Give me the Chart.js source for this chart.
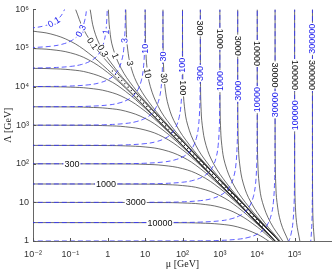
<!DOCTYPE html>
<html><head><meta charset="utf-8">
<script src="https://cdn.jsdelivr.net/npm/chart.js@4/dist/chart.umd.min.js"></script>
<style>html,body{margin:0;padding:0;background:#fff;overflow:hidden}#wrap{width:332px;height:271px}</style>
</head><body><div id="wrap"><canvas id="c" width="332" height="271"></canvas></div>
<script>
// ---- axis ticks ----
const xTickValues = [1e-2, 1e-1, 1, 10, 100, 1e3, 1e4, 1e5];
const xTickLabels = ['10\u207B\u00B2', '10\u207B\u00B9', '1', '10', '10\u00B2', '10\u00B3', '10\u2074', '10\u2075'];
const yTickValues = [1, 10, 100, 1e3, 1e4, 1e5, 1e6];
const yTickLabels = ['1', '10', '10\u00B2', '10\u00B3', '10\u2074', '10\u2075', '10\u2076'];

// ---- black contours, branch coming from the left (horizontal at small mu) : [mu, Lambda] ----
const blackL_0_1 = [[0.01,2.73e5],[0.03,2.31e5],[0.1,1.5e5],[0.3,7.5e4],[1,2.73e4],[3,9.68e3],[10,2970],[30,997],[100,300],[300,100],[1000,30],[3000,10],[1e4,3],[2e4,1.5],[3e4,1]];
const blackL_0_3 = [[0.01,9.68e4],[0.03,9.09e4],[0.1,7.5e4],[0.3,5e4],[1,2.31e4],[3,9.09e3],[10,2910],[30,990],[100,299],[300,99.9],[1000,30],[3000,10],[1e4,3],[2e4,1.5],[3e4,1]];
const blackL_1 = [[0.01,2.97e4],[0.03,2.91e4],[0.1,2.73e4],[0.3,2.31e4],[1,1.5e4],[3,7.5e3],[10,2730],[30,968],[100,297],[300,99.7],[1000,30],[3000,10],[1e4,3],[2e4,1.5],[3e4,1]];
const blackL_3 = [[0.01,9.97e3],[0.03,9.9e3],[0.1,9.68e3],[0.3,9.09e3],[1,7.5e3],[3,5e3],[10,2310],[30,909],[100,291],[300,99],[1000,29.9],[3000,10],[1e4,3],[2e4,1.5],[3e4,1]];
const blackL_10 = [[0.01,3e3],[0.1,2.97e3],[0.3,2.91e3],[1,2.73e3],[3,2.31e3],[10,1.5e3],[30,750],[100,273],[300,96.8],[1000,29.7],[3000,9.97],[1e4,3],[2e4,1.5],[3e4,1]];
const blackL_30 = [[0.01,1e3],[0.3,990],[1,968],[3,909],[10,750],[30,500],[100,231],[300,90.9],[1000,29.1],[3000,9.9],[1e4,2.99],[2e4,1.5],[3e4,1]];
const blackL_100 = [[0.01,300],[1,297],[3,291],[10,273],[30,231],[100,150],[300,75],[1000,27.3],[3000,9.68],[1e4,2.97],[2e4,1.49],[3e4,1]];
const blackL_300 = [[0.01,100],[3,99],[10,96.8],[30,90.9],[100,75],[300,50],[1000,23.1],[3000,9.09],[1e4,2.91],[2e4,1.48],[3e4,0.99]];
const blackL_1000 = [[0.01,30],[10,29.7],[30,29.1],[100,27.3],[300,23.1],[1000,15],[3000,7.5],[1e4,2.73],[2e4,1.43],[3e4,0.97]];
const blackL_3000 = [[0.01,10],[30,9.9],[100,9.68],[300,9.09],[1000,7.5],[3000,5],[1e4,2.31],[2e4,1.3],[3e4,0.91]];
const blackL_1e4 = [[0.01,3],[100,2.97],[300,2.91],[1000,2.73],[3000,2.31],[1e4,1.5],[2e4,1],[3e4,0.75]];

// ---- black contours, branch coming from the top (vertical at large Lambda) ----
const blackT_0_1 = [[0.138,1e6],[0.227,3e5],[0.48,1e5],[1.37,3e4],[3.9,1e4],[12.8,3e3],[38.1,1e3],[127,300],[380,100],[1267,30],[3800,10],[1.27e4,3],[3.8e4,1]];
const blackT_0_3 = [[0.338,1e6],[0.427,3e5],[0.68,1e5],[1.57,3e4],[4.1,1e4],[13,3e3],[38.3,1e3],[127.3,300],[380.3,100],[1267,30],[3800,10],[1.27e4,3],[3.8e4,1]];
const blackT_1 = [[1.038,1e6],[1.127,3e5],[1.38,1e5],[2.27,3e4],[4.8,1e4],[13.7,3e3],[39,1e3],[128,300],[381,100],[1268,30],[3801,10],[1.27e4,3],[3.8e4,1]];
const blackT_3 = [[3.038,1e6],[3.127,3e5],[3.38,1e5],[4.27,3e4],[6.8,1e4],[15.7,3e3],[41,1e3],[130,300],[383,100],[1270,30],[3803,10],[1.27e4,3],[3.8e4,1]];
const blackT_10 = [[10.04,1e6],[10.13,3e5],[10.38,1e5],[11.27,3e4],[13.8,1e4],[22.7,3e3],[48,1e3],[137,300],[390,100],[1277,30],[3810,10],[1.271e4,3],[3.801e4,1]];
const blackT_30 = [[30.04,1e6],[30.13,3e5],[30.38,1e5],[31.27,3e4],[33.8,1e4],[42.7,3e3],[68,1e3],[157,300],[410,100],[1297,30],[3830,10],[1.273e4,3],[3.803e4,1]];
const blackT_100 = [[100.04,1e6],[100.13,3e5],[100.38,1e5],[101.3,3e4],[103.8,1e4],[112.7,3e3],[138,1e3],[227,300],[480,100],[1367,30],[3900,10],[1.28e4,3],[3.81e4,1]];
const blackT_300 = [[300,1e6],[300.13,3e5],[300.38,1e5],[301.3,3e4],[303.8,1e4],[312.7,3e3],[338,1e3],[427,300],[680,100],[1567,30],[4100,10],[1.3e4,3],[3.83e4,1]];
const blackT_1000 = [[1000,1e6],[1000,1e5],[1001.3,3e4],[1003.8,1e4],[1012.7,3e3],[1038,1e3],[1127,300],[1380,100],[2267,30],[4800,10],[1.37e4,3],[3.9e4,1]];
const blackT_3000 = [[3000,1e6],[3000,1e5],[3001.3,3e4],[3003.8,1e4],[3012.7,3e3],[3038,1e3],[3127,300],[3380,100],[4267,30],[6800,10],[1.57e4,3],[4.1e4,1]];
const blackT_1e4 = [[1e4,1e6],[1e4,1e4],[1.0013e4,3e3],[1.0038e4,1e3],[1.0127e4,300],[1.038e4,100],[1.127e4,30],[1.38e4,10],[2.27e4,3],[4.8e4,1]];
const blackT_3e4 = [[3e4,1e6],[3e4,1e4],[3.0013e4,3e3],[3.0038e4,1e3],[3.0127e4,300],[3.038e4,100],[3.127e4,30],[3.38e4,10],[4.27e4,3],[6.8e4,1]];
const blackT_1e5 = [[1e5,1e6],[1e5,1e3],[1.0013e5,300],[1.0038e5,100],[1.0127e5,30],[1.038e5,10],[1.127e5,3],[1.38e5,1]];
const blackT_3e5 = [[3e5,1e6],[3e5,1e3],[3.0013e5,300],[3.0038e5,100],[3.0127e5,30],[3.038e5,10],[3.127e5,3],[3.38e5,1]];

// dotted marks inside the narrow channel along the diagonal
const bundleDots = [[1.3,2.6e4],[3.4,1e4],[11.3,3e3],[34,1e3],[113,300],[340,100],[1133,30],[3400,10],[1.13e4,3],[1.6e4,2.1]];

// ---- blue dashed contours ----
const blue_0_1 = [[0.005,3.16e5],[0.01,3.33e5],[0.02,3.75e5],[0.035,4.6e5],[0.05,6e5],[0.065,8.6e5],[0.08,1.5e6],[0.09,3e6]];
const blue_0_3 = [[0.005,1.02e5],[0.01,1.03e5],[0.03,1.11e5],[0.06,1.25e5],[0.105,1.54e5],[0.15,2e5],[0.195,2.86e5],[0.24,5e5],[0.27,1e6],[0.291,3.3e6]];
const blue_1 = [[0.005,3e4],[0.01,3.03e4],[0.03,3.09e4],[0.1,3.33e4],[0.2,3.75e4],[0.35,4.62e4],[0.5,6e4],[0.65,8.57e4],[0.8,1.5e5],[0.9,3e5],[0.97,1e6],[0.99,3e6]];
const blue_3 = [[0.005,1e4],[0.03,1.01e4],[0.09,1.03e4],[0.3,1.11e4],[0.6,1.25e4],[1.05,1.54e4],[1.5,2e4],[1.95,2.86e4],[2.4,5e4],[2.7,1e5],[2.91,3.33e5],[2.97,1e6],[2.991,3.3e6]];
const blue_10 = [[0.005,3e3],[0.1,3.03e3],[0.3,3.09e3],[1,3.33e3],[2,3.75e3],[3.5,4.62e3],[5,6e3],[6.5,8.57e3],[8,1.5e4],[9,3e4],[9.7,1e5],[9.9,3e5],[9.97,1e6],[9.99,3e6]];
const blue_30 = [[0.005,1e3],[0.3,1.01e3],[0.9,1.03e3],[3,1.11e3],[6,1.25e3],[10.5,1.54e3],[15,2e3],[19.5,2.86e3],[24,5e3],[27,1e4],[29.1,3.33e4],[29.7,1e5],[29.91,3.33e5],[29.97,1e6],[29.99,3e6]];
const blue_100 = [[0.005,300],[1,303],[3,309],[10,333],[20,375],[35,462],[50,600],[65,857],[80,1500],[90,3000],[97,1e4],[99,3e4],[99.7,1e5],[99.97,1e6]];
const blue_300 = [[0.005,100],[3,101],[9,103],[30,111],[60,125],[105,154],[150,200],[195,286],[240,500],[270,1000],[291,3333],[297,1e4],[299.1,3.33e4],[299.7,1e5],[299.97,1e6]];
const blue_1000 = [[0.005,30],[10,30.3],[30,30.9],[100,33.3],[200,37.5],[350,46.2],[500,60],[650,85.7],[800,150],[900,300],[970,1000],[990,3000],[997,1e4],[999,3e4],[1000,1e6]];
const blue_3000 = [[0.005,10],[30,10.1],[90,10.3],[300,11.1],[600,12.5],[1050,15.4],[1500,20],[1950,28.6],[2400,50],[2700,100],[2910,333],[2970,1000],[2991,3333],[2997,1e4],[3000,1e6]];
const blue_1e4 = [[0.005,3],[100,3.03],[300,3.09],[1000,3.33],[2000,3.75],[3500,4.62],[5000,6],[6500,8.57],[8000,15],[9000,30],[9700,100],[9900,300],[9970,1000],[9990,3000],[1e4,1e6]];
const blue_3e4 = [[0.005,1],[300,1.01],[900,1.03],[3000,1.11],[6000,1.25],[10500,1.54],[15000,2],[19500,2.86],[24000,5],[27000,10],[29100,33.3],[29700,100],[29910,333],[29970,1000],[30000,1e6]];
const blue_1e5 = [[5e4,0.6],[7e4,1],[8e4,1.5],[9e4,3],[9.7e4,10],[9.9e4,30],[9.97e4,100],[9.99e4,300],[1e5,1e6]];
const blue_3e5 = [[2.4e5,0.5],[2.7e5,1],[2.91e5,3.33],[2.97e5,10],[2.991e5,33],[2.997e5,100],[3e5,1e6]];

// ---- contour labels ----
const blackLabelText = ['300','1000','3000','10000','0.1','0.3','1','3','10','30','100','300','1000','3000','10000','30000','100000','300000'];
const blackLabelMu   = [0.11, 0.9, 5.6, 25, 0.392, 0.747, 1.6, 3.95, 11.73, 32.3, 104.1, 300.1, 1000, 3000, 1e4, 3e4, 1e5, 3e5];
const blackLabelLam  = [100, 30, 10, 3, 1.3e5, 8.5e4, 6.3e4, 4e4, 2.2e4, 1.66e4, 9.3e3, 3.3e5, 1.73e5, 1.15e5, 7.2e4, 2e4, 2e4, 2e4];
const blackLabelAng  = [0, 0, 0, 0, 55, 60, 70, 77, 82, 86, 90, 90, 90, 90, 90, 90, 90, 90];
const blueLabelText = ['0.1','0.3','1','3','10','30','100','300','1000','3000','10000','30000','100000','300000'];
const blueLabelMu   = [0.036, 0.19, 0.885, 2.81, 9.69, 29.5, 99.15, 298.6, 997.8, 2996, 9993, 29991, 99983, 3e5];
const blueLabelLam  = [4.7e5, 2.77e5, 2.6e5, 1.55e5, 9.6e4, 6e4, 3.55e4, 2.2e4, 1.39e4, 7.8e3, 4.6e3, 3.4e3, 1.8e3, 1.73e5];
const blueLabelAng  = [-31, -62, -83, -86, -90, -90, -90, -90, -90, -90, -90, -90, -90, -90];

const blackLeft = [blackL_0_1, blackL_0_3, blackL_1, blackL_3, blackL_10, blackL_30, blackL_100, blackL_300, blackL_1000, blackL_3000, blackL_1e4];
const blackTop = [blackT_0_1, blackT_0_3, blackT_1, blackT_3, blackT_10, blackT_30, blackT_100, blackT_300, blackT_1000, blackT_3000, blackT_1e4, blackT_3e4, blackT_1e5, blackT_3e5];
const blueCurves = [blue_0_1, blue_0_3, blue_1, blue_3, blue_10, blue_30, blue_100, blue_300, blue_1000, blue_3000, blue_1e4, blue_3e4, blue_1e5, blue_3e5];

const BLACK = '#2e2e2e';
const BLUE = 'rgba(50,50,255,0.88)';
const toXY = a => a.map(p => ({x: p[0], y: p[1]}));

const datasets = [];
blueCurves.forEach(c => datasets.push({data: toXY(c), borderColor: BLUE, borderWidth: 0.9, borderDash: [5, 3], order: 0}));
blackLeft.concat(blackTop).forEach(c => datasets.push({data: toXY(c), borderColor: BLACK, borderWidth: 0.7, order: 1}));
datasets.push({data: toXY(bundleDots), borderColor: '#111', borderWidth: 1.2, borderDash: [1, 3.5], order: 1});

const labelPlugin = {
  id: 'contourLabels',
  afterDatasetsDraw(chart) {
    const {ctx, scales: {x, y}, chartArea: ca} = chart;
    ctx.save();
    // inward tick marks
    ctx.strokeStyle = '#555'; ctx.lineWidth = 1;
    ctx.beginPath();
    xTickValues.forEach(v => { const px = Math.round(x.getPixelForValue(v)) + 0.5; ctx.moveTo(px, ca.bottom); ctx.lineTo(px, ca.bottom - 3); });
    yTickValues.forEach(v => { const py = Math.round(y.getPixelForValue(v)) + 0.5; ctx.moveTo(ca.left, py); ctx.lineTo(ca.left + 3, py); });
    ctx.stroke();
    ctx.font = '9px "Liberation Sans", Arial, sans-serif';
    ctx.textAlign = 'center'; ctx.textBaseline = 'middle';
    const draw = (texts, mus, lams, angs, color) => {
      for (let i = 0; i < texts.length; i++) {
        const px = x.getPixelForValue(mus[i]), py = y.getPixelForValue(lams[i]);
        ctx.save(); ctx.translate(px, py); ctx.rotate(angs[i] * Math.PI / 180);
        const w = ctx.measureText(texts[i]).width;
        ctx.fillStyle = '#fff'; ctx.fillRect(-w / 2 - 1, -3.5, w + 2, 7);
        ctx.fillStyle = color; ctx.fillText(texts[i], 0, 0.5);
        ctx.restore();
      }
    };
    draw(blackLabelText, blackLabelMu, blackLabelLam, blackLabelAng, '#111');
    draw(blueLabelText, blueLabelMu, blueLabelLam, blueLabelAng, '#2020ee');
    ctx.restore();
  }
};

const tickFont = {family: '"Liberation Sans", "DejaVu Sans", Arial, sans-serif', size: 9};
new Chart(document.getElementById('c'), {
  type: 'scatter',
  data: {datasets},
  options: {
    responsive: false, animation: false, devicePixelRatio: 1, events: [],
    layout: {padding: {top: 5, right: 0, left: 0, bottom: 0}},
    elements: {point: {radius: 0}, line: {tension: 0.4, capBezierPoints: false, fill: false}},
    datasets: {scatter: {showLine: true, pointRadius: 0}},
    plugins: {legend: {display: false}, tooltip: {enabled: false}},
    scales: {
      x: {
        type: 'logarithmic', min: 1e-2, max: 1e6, position: 'bottom',
        afterBuildTicks: s => { s.ticks = xTickValues.map(v => ({value: v})); },
        afterFit: s => { s.height = 30; },
        grid: {display: false, drawTicks: false},
        border: {display: true, color: '#666', width: 1},
        ticks: {autoSkip: false, maxRotation: 0, padding: 8, color: '#333', font: tickFont,
                callback: (v, i) => xTickLabels[i]},
        title: {display: true, text: '\u03BC [GeV]', color: '#222', padding: {top: 0, bottom: 1},
                font: {family: '"Liberation Serif", "DejaVu Serif", serif', size: 10}}
      },
      y: {
        type: 'logarithmic', min: 1, max: 1e6, position: 'left',
        afterBuildTicks: s => { s.ticks = yTickValues.map(v => ({value: v})); },
        afterFit: s => { s.width = 33; },
        grid: {display: false, drawTicks: false},
        border: {display: true, color: '#666', width: 1},
        ticks: {autoSkip: false, padding: 4, color: '#333', font: tickFont,
                callback: (v, i) => yTickLabels[i]},
        title: {display: true, text: '\u039B [GeV]', color: '#222', padding: {top: 2, bottom: 0},
                font: {family: '"Liberation Serif", "DejaVu Serif", serif', size: 10}}
      }
    }
  },
  plugins: [labelPlugin]
});
</script></body></html>
